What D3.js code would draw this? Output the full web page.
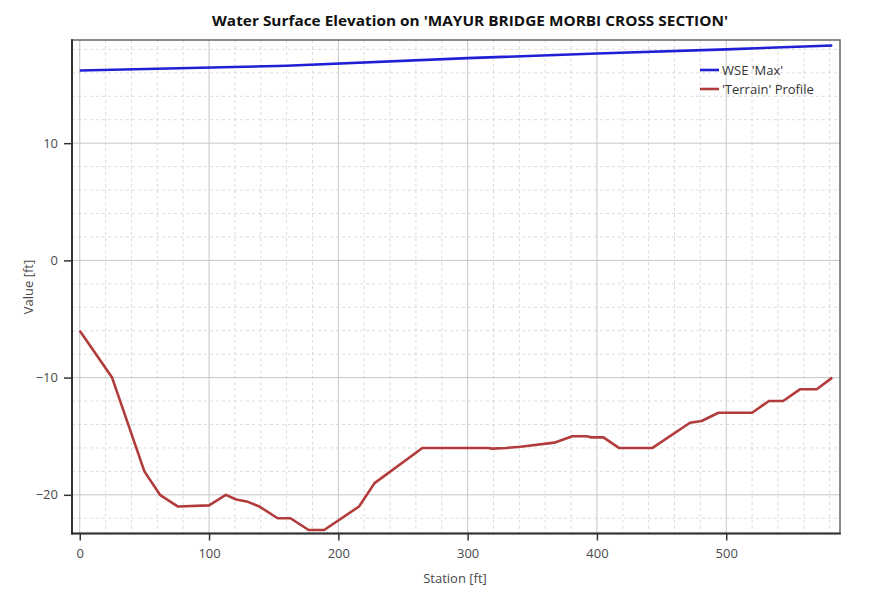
<!DOCTYPE html>
<html>
<head>
<meta charset="utf-8">
<script src="https://cdn.jsdelivr.net/npm/d3@7"></script>
<style>
  html, body { margin: 0; padding: 0; background: #fff; }
  svg { display: block; font-family: "Open Sans", "Noto Sans", sans-serif; }
</style>
</head>
<body>
<svg id="chart" width="874" height="597"></svg>
<script>
// Station (ft) and elevation (ft) of the water surface profile
const wseStation = [0, 160, 300, 400, 500, 582];
const wseValue   = [16.2, 16.6, 17.25, 17.65, 18.0, 18.33];

// Ground profile along the cross section
const terrainStation = [0, 25, 50, 62, 76, 100, 113, 121, 130, 139, 153, 163, 177, 189, 216, 228,
  265, 316, 319, 330, 341, 367, 381, 392, 396, 405, 417, 443, 472, 481, 494, 520, 533, 544, 557, 570, 582];
const terrainValue = [-6, -10, -18, -20, -21, -20.9, -20, -20.4, -20.6, -21, -22, -22, -23, -23, -21, -19,
  -16, -16, -16.06, -16, -15.9, -15.55, -15, -15, -15.1, -15.1, -16, -16, -13.85, -13.7, -13, -13, -12, -12, -11, -11, -10];

const seriesNames = ["WSE 'Max'", "'Terrain' Profile"];
const seriesColors = ["#1f1fd6", "#b23b3b"];

const xMajor = [0, 100, 200, 300, 400, 500];
const xMinor = d3.range(0, 581, 20);
const yMajor = [-20, -10, 0, 10];
const yMinor = d3.range(-22, 19, 2);

const svg = d3.select("#chart");
const plotLeft = 72, plotRight = 840, plotTop = 40, plotBottom = 533.5;

const x = d3.scaleLinear().domain([-6, 588]).range([plotLeft, plotRight]);
const y = d3.scaleLinear().domain([-23.3, 18.8]).range([plotBottom, plotTop]);

// Grid: dashed minor lines under solid major lines
const grid = svg.append("g");
grid.selectAll(".vmin").data(xMinor.filter(d => d % 100 !== 0)).join("line")
  .attr("x1", d => x(d)).attr("x2", d => x(d)).attr("y1", plotTop).attr("y2", plotBottom)
  .attr("stroke", "#dcdcdc").attr("stroke-dasharray", "3,3");
grid.selectAll(".hmin").data(yMinor.filter(d => d % 10 !== 0)).join("line")
  .attr("y1", d => y(d)).attr("y2", d => y(d)).attr("x1", plotLeft).attr("x2", plotRight)
  .attr("stroke", "#dcdcdc").attr("stroke-dasharray", "3,3");
grid.selectAll(".vmaj").data(xMajor).join("line")
  .attr("x1", d => x(d)).attr("x2", d => x(d)).attr("y1", plotTop).attr("y2", plotBottom)
  .attr("stroke", "#c6c6c6");
grid.selectAll(".hmaj").data(yMajor).join("line")
  .attr("y1", d => y(d)).attr("y2", d => y(d)).attr("x1", plotLeft).attr("x2", plotRight)
  .attr("stroke", "#c6c6c6");

// Plot frame
svg.append("rect").attr("x", plotLeft).attr("y", plotTop)
  .attr("width", plotRight - plotLeft).attr("height", plotBottom - plotTop)
  .attr("fill", "none").attr("stroke", "#666").attr("stroke-width", 1.5);

// Axes: long ticks at major values, short at minor values
const tickColor = "#333";
function drawXAxis() {
  const g = svg.append("g").attr("transform", `translate(0,${plotBottom})`);
  g.call(d3.axisBottom(x).tickValues(xMinor).tickSize(5).tickFormat(""));
  g.call(d3.axisBottom(x).tickValues(xMajor).tickSize(7).tickPadding(8).tickFormat(d3.format("d")));
  g.selectAll(".domain").remove();
  g.selectAll("line").attr("stroke", tickColor).attr("stroke-width", 1.5);
  g.selectAll("text").attr("fill", "#4a4a4a").style("font-size", "13px")
    .style("font-family", "'Open Sans', sans-serif");
}
function drawYAxis() {
  const g = svg.append("g").attr("transform", `translate(${plotLeft},0)`);
  g.call(d3.axisLeft(y).tickValues(yMinor).tickSize(5).tickFormat(""));
  g.call(d3.axisLeft(y).tickValues(yMajor).tickSize(8).tickPadding(6).tickFormat(d3.format("d")));
  g.selectAll(".domain").remove();
  g.selectAll("line").attr("stroke", tickColor).attr("stroke-width", 1.5);
  g.selectAll("text").attr("fill", "#4a4a4a").style("font-size", "13px")
    .style("font-family", "'Open Sans', sans-serif");
}
drawXAxis();
drawYAxis();

// Heavier axis lines on the left and bottom
svg.append("line").attr("x1", plotLeft).attr("x2", plotLeft).attr("y1", plotTop - 0.75).attr("y2", plotBottom + 1)
  .attr("stroke", "#333").attr("stroke-width", 2);
svg.append("line").attr("x1", plotLeft - 1).attr("x2", plotRight + 0.75).attr("y1", plotBottom).attr("y2", plotBottom)
  .attr("stroke", "#333").attr("stroke-width", 2);

// Profiles
const line = d3.line().x(d => x(d[0])).y(d => y(d[1]));
const wse = d3.zip(wseStation, wseValue);
const terrain = d3.zip(terrainStation, terrainValue);
svg.append("path").datum(terrain).attr("d", line)
  .attr("fill", "none").attr("stroke", seriesColors[1]).attr("stroke-width", 2.6)
  .attr("stroke-linejoin", "round");
svg.append("path").datum(wse).attr("d", line)
  .attr("fill", "none").attr("stroke", seriesColors[0]).attr("stroke-width", 2.6)
  .attr("stroke-linejoin", "round");

// Legend
const legend = svg.append("g").attr("transform", "translate(700,70)");
seriesNames.forEach((name, i) => {
  const row = legend.append("g").attr("transform", `translate(0,${i * 19})`);
  row.append("line").attr("x1", 0).attr("x2", 19).attr("y1", 0).attr("y2", 0)
    .attr("stroke", seriesColors[i]).attr("stroke-width", 2.6);
  row.append("text").attr("x", 22).attr("y", 4.5).text(name)
    .attr("fill", "#333").style("font-size", "13px");
});

// Titles
svg.append("text").attr("x", 470).attr("y", 26).attr("text-anchor", "middle")
  .attr("fill", "#111").style("font-size", "14px").style("font-weight", "bold")
  .attr("textLength", 516).attr("lengthAdjust", "spacingAndGlyphs")
  .text("Water Surface Elevation on 'MAYUR BRIDGE MORBI CROSS SECTION'");
svg.append("text").attr("x", 455).attr("y", 583).attr("text-anchor", "middle")
  .attr("fill", "#4a4a4a").style("font-size", "13px").text("Station [ft]");
svg.append("text").attr("transform", "translate(33,287) rotate(-90)").attr("text-anchor", "middle")
  .attr("fill", "#4a4a4a").style("font-size", "13px").text("Value [ft]");
</script>
</body>
</html>
